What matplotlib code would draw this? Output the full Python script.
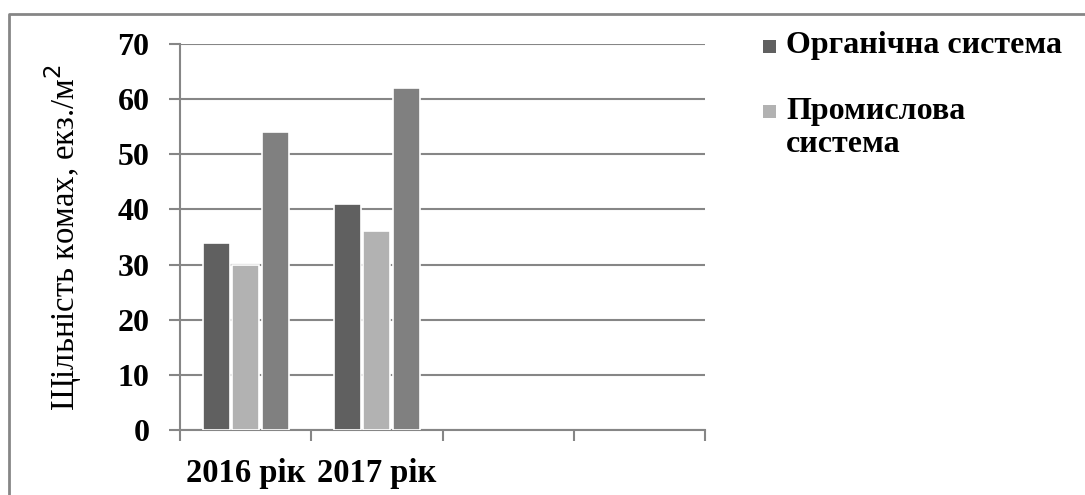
import matplotlib
matplotlib.use('Agg')
import matplotlib.pyplot as plt
import numpy as np
from matplotlib.lines import Line2D
from matplotlib.patches import Rectangle

# Data
categories = ['2016 рік', '2017 рік', '', '']
organic = [34, 41]
industrial = [30, 36]
third_series = [54, 62]
series_labels = ['Органічна система', 'Промислова\nсистема']
series_colors = ['#606060', '#b2b2b2', '#808080']
y_ticks = [0, 10, 20, 30, 40, 50, 60, 70]

plt.rcParams['font.family'] = ['Liberation Serif', 'DejaVu Serif']

fig = plt.figure(figsize=(10.85, 4.95), dpi=100)
ax = fig.add_axes([180 / 1085, 1 - 430 / 495, 525 / 1085, 386 / 495])

x = np.arange(len(organic))
width = 0.205
step = 0.225
b1 = ax.bar(x - step, organic, width, color=series_colors[0], edgecolor='white', linewidth=1.2, zorder=3)
b2 = ax.bar(x, industrial, width, color=series_colors[1], edgecolor='white', linewidth=1.2, zorder=3)
b3 = ax.bar(x + step, third_series, width, color=series_colors[2], edgecolor='white', linewidth=1.2, zorder=3)

ax.set_xlim(-0.5, len(categories) - 0.5)
ax.set_ylim(0, 70)
ax.set_yticks(y_ticks)
ax.set_yticklabels([str(t) for t in y_ticks], fontsize=23, fontweight='bold')

# category labels at centers, tick marks on the boundaries
ax.set_xticks(np.arange(len(categories)))
ax.set_xticklabels(categories, fontsize=23.5, fontweight='bold')
ax.set_xticks(np.arange(len(categories) + 1) - 0.5, minor=True)
ax.tick_params(axis='x', which='major', length=0, pad=20)
ax.tick_params(axis='x', which='minor', length=8, width=1.5, color='#868686', direction='out')
ax.tick_params(axis='y', length=8, width=1.5, color='#868686', direction='out', pad=14)

ax.set_ylabel('Щільність комах, екз./м$^2$', fontsize=23.5, labelpad=24)

ax.grid(axis='y', color='#868686', linewidth=1.5, zorder=0)
ax.set_axisbelow(True)
for side in ['top', 'right']:
    ax.spines[side].set_visible(False)
for side in ['left', 'bottom']:
    ax.spines[side].set_color('#868686')
    ax.spines[side].set_linewidth(1.5)

# legend drawn by hand so the square sits on the first line of a two-line label
legend_rows = [53, 118]  # baseline of the first text line, px from top
line_gap = 34            # px between baselines inside one label
for label, color, base in zip(series_labels, series_colors, legend_rows):
    n_lines = label.count('\n')
    fig.add_artist(Rectangle((763 / 1085, 1 - base / 495), 13 / 1085, 13 / 495,
                             transform=fig.transFigure, facecolor=color, edgecolor='none'))
    fig.text(786 / 1085, 1 - (base + n_lines * line_gap) / 495, label,
             fontsize=23, fontweight='bold', ha='left', va='baseline', linespacing=1.2)

# outer frame (only top and left visible in the crop)
fig.add_artist(Line2D([9 / 1085, 9 / 1085, 1], [0, 1 - 14 / 495, 1 - 14 / 495],
                      transform=fig.transFigure, color='#868686', linewidth=2))

fig.savefig('out.png', dpi=100)
